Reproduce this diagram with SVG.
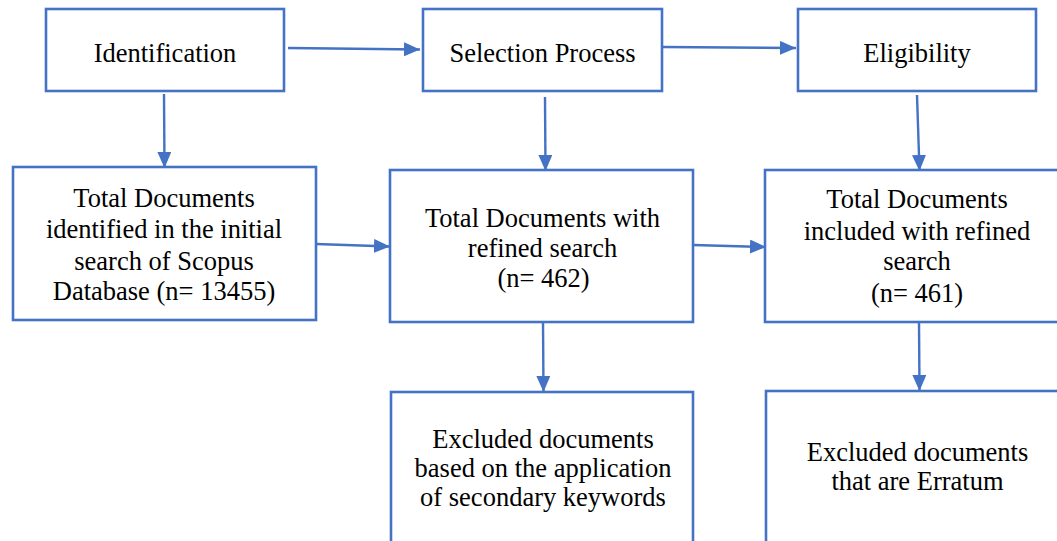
<svg xmlns="http://www.w3.org/2000/svg" width="1057" height="541" viewBox="0 0 1057 541">
  <style>
    .box { fill: #ffffff; stroke: #4472C4; stroke-width: 2.6; }
    .lbl { font-family: "Liberation Serif", "Times New Roman", serif; font-size: 26.5px; fill: #000000; text-anchor: middle; }
    .conn { stroke: #4472C4; stroke-width: 2.4; fill: none; marker-end: url(#arrow); }
  </style>
  <defs>
    <marker id="arrow" markerUnits="userSpaceOnUse" markerWidth="16" markerHeight="14" refX="16" refY="7" orient="auto">
      <path d="M0,0 L16,7 L0,14 z" fill="#4472C4"/>
    </marker>
  </defs>
  <rect width="1057" height="541" fill="#ffffff"/>

  <g id="connectors">
    <line class="conn" x1="288" y1="48" x2="420" y2="49.5"/>
    <line class="conn" x1="663" y1="47" x2="796" y2="48"/>
    <line class="conn" x1="164" y1="94" x2="164.5" y2="168"/>
    <line class="conn" x1="545" y1="97" x2="545.5" y2="171"/>
    <line class="conn" x1="917" y1="95" x2="919.5" y2="171"/>
    <line class="conn" x1="316" y1="244" x2="390" y2="246.5"/>
    <line class="conn" x1="693" y1="245" x2="766" y2="247"/>
    <line class="conn" x1="543" y1="321" x2="543.5" y2="392"/>
    <line class="conn" x1="919" y1="322" x2="919.5" y2="391"/>
  </g>

  <g id="identification">
    <rect class="box" x="46" y="9" width="238" height="82"/>
    <text class="lbl" x="165" y="62">Identification</text>
  </g>
  <g id="selection-process">
    <rect class="box" x="423" y="9" width="239" height="82"/>
    <text class="lbl" x="542.5" y="62">Selection Process</text>
  </g>
  <g id="eligibility">
    <rect class="box" x="798" y="9" width="238" height="82"/>
    <text class="lbl" x="917" y="62">Eligibility</text>
  </g>

  <g id="total-identified">
    <rect class="box" x="13" y="167" width="303" height="153"/>
    <text class="lbl" x="164" y="207">Total Documents</text>
    <text class="lbl" x="164" y="238">identified in the initial</text>
    <text class="lbl" x="164" y="269.5">search of Scopus</text>
    <text class="lbl" x="164" y="300">Database (n= 13455)</text>
  </g>
  <g id="total-refined">
    <rect class="box" x="390" y="170" width="303" height="152"/>
    <text class="lbl" x="542.5" y="226.5">Total Documents with</text>
    <text class="lbl" x="542.5" y="256.5">refined search</text>
    <text class="lbl" x="543.5" y="286.5">(n= 462)</text>
  </g>
  <g id="total-included">
    <rect class="box" x="765" y="170" width="300" height="152"/>
    <text class="lbl" x="917" y="208">Total Documents</text>
    <text class="lbl" x="917" y="240">included with refined</text>
    <text class="lbl" x="917" y="270">search</text>
    <text class="lbl" x="917" y="301.5">(n= 461)</text>
  </g>

  <g id="excluded-secondary">
    <rect class="box" x="391" y="392" width="302" height="170"/>
    <text class="lbl" x="543" y="448">Excluded documents</text>
    <text class="lbl" x="543" y="477">based on the application</text>
    <text class="lbl" x="543" y="506">of secondary keywords</text>
  </g>
  <g id="excluded-erratum">
    <rect class="box" x="766" y="391" width="300" height="171"/>
    <text class="lbl" x="917.5" y="460.5">Excluded documents</text>
    <text class="lbl" x="917.5" y="490">that are Erratum</text>
  </g>
</svg>
